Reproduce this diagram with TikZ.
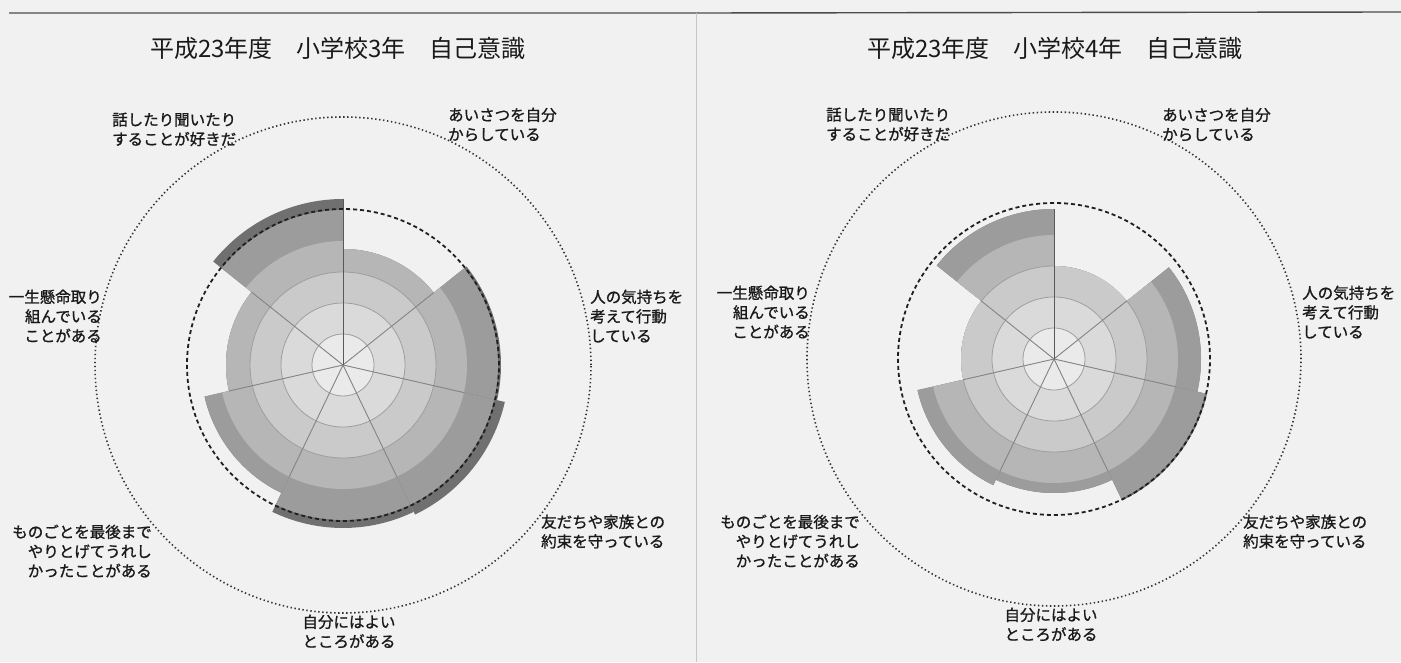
\documentclass[tikz,border=0pt]{standalone}
\usepackage{fontspec}
\setmainfont{Noto Sans CJK JP}
\newfontfamily\labfam{Noto Sans CJK JP}[FakeBold=1.1]
\definecolor{paper}{HTML}{F1F1F1}
\definecolor{rbA}{HTML}{EAEAEA}
\definecolor{rbB}{HTML}{DADADA}
\definecolor{rbC}{HTML}{CACACA}
\definecolor{rbD}{HTML}{B6B6B6}
\definecolor{rbE}{HTML}{9C9C9C}
\definecolor{rbF}{HTML}{707070}
\definecolor{inkc}{HTML}{1A1A1A}
\newcommand\labfont{\labfam\fontsize{15.5}{19.5}\selectfont}
\newcommand\ttlfont{\fontsize{24}{28}\selectfont}
\tikzset{
  lab/.style={font=\labfont, inner sep=0pt, text=inkc},
  ttl/.style={font=\ttlfont, inner sep=0pt, text=inkc},
  gridarc/.style={draw=black!38, line width=0.8pt},
  radial/.style={draw=black!48, line width=0.9pt},
  axisline/.style={draw=black!65, line width=1pt},
  dashcirc/.style={draw=black!88, line width=1.8pt, dash pattern=on 4pt off 3pt},
  outerdot/.style={draw=black!80, line width=1.6pt, dash pattern=on 1.4pt off 2.6pt},
  pageedge/.style={draw=black!70, line width=1.4pt},
  pagefold/.style={draw=black!22, line width=0.8pt},
}
% #1: list index/value (radius in px), #2: list boundary/length, #3: top axis length
\newcommand\roseplot[3]{%
  \foreach \i/\v in {#1}{%
    \pgfmathsetmacro\angA{90-(\i-1)*360/7}%
    \pgfmathsetmacro\angB{90-\i*360/7}%
    \foreach \k/\cc in {6/rbF,5/rbE,4/rbD,3/rbC,2/rbB,1/rbA}{%
      \pgfmathsetmacro\rr{min(\v,31*\k)}%
      \fill[\cc] (0,0) -- (\angA:\rr) arc[start angle=\angA, end angle=\angB, radius=\rr] -- cycle;
    }%
    \foreach \k in {1,2,3}{%
      \ifnum\v>\numexpr31*\k\relax
        \pgfmathsetmacro\gr{31*\k}%
        \draw[gridarc] (\angA:\gr) arc[start angle=\angA, end angle=\angB, radius=\gr];
      \fi
    }%
  }%
  \foreach \j/\l in {#2}{%
    \pgfmathsetmacro\angC{90-\j*360/7}%
    \draw[radial] (0,0) -- (\angC:\l);
  }%
  \draw[axisline] (0,0) -- (90:#3);
}
\begin{document}
\begin{tikzpicture}[x=1pt,y=1pt]
\useasboundingbox (0,0) rectangle (1401,662);
\fill[paper] (0,0) rectangle (1401,662);
\draw[pageedge] (9,649) -- (700,649) -- (1401,650);
\draw[pagefold] (696,649) -- (696,0);

% ---------- left chart ----------
\begin{scope}[shift={(343,297)}]
  \draw[outerdot] (0,0) circle[radius=248];
  \roseplot{1/116,2/158,3/166,4/163,5/142,6/117,7/166}{1/116,2/124,3/124,4/124,5/117,6/117}{166}
  \draw[dashcirc] (0,0) circle[radius=156];
\end{scope}
\node[ttl] (t3) at (338,614) {平成23年度　小学校3年　自己意識};
\node[lab, anchor=north west, align=left] (l3a) at (112,549.5) {話したり聞いたり\\することが好きだ};
\node[lab, anchor=north west, align=left] (l3b) at (448,554.5) {あいさつを自分\\からしている};
\node[lab, anchor=north west, align=left] (l3c) at (590,372.5) {人の気持ちを\\考えて行動\\している};
\node[lab, anchor=north west, align=left] (l3d) at (541,147.5) {友だちや家族との\\約束を守っている};
\node[lab, anchor=north, align=center] (l3e) at (349,47.5) {自分にはよい\\ところがある};
\node[lab, anchor=north east, align=right] (l3f) at (152,137.5) {ものごとを最後まで\\やりとげてうれし\\かったことがある};
\node[lab, anchor=north east, align=right] (l3g) at (102,372.5) {一生懸命取り\\組んでいる\\ことがある};

% ---------- right chart ----------
\begin{scope}[shift={(1054,303)}]
  \draw[outerdot] (0,0) circle[radius=247];
  \roseplot{1/93,2/147,3/157,4/134,5/140,6/93,7/150}{1/93,2/124,3/124,4/124,5/93,6/93}{150}
  \draw[dashcirc] (0,0) circle[radius=156];
\end{scope}
\node[ttl] (t4) at (1055,614) {平成23年度　小学校4年　自己意識};
\node[lab, anchor=north west, align=left] (l4a) at (826,554.5) {話したり聞いたり\\することが好きだ};
\node[lab, anchor=north west, align=left] (l4b) at (1162,554.5) {あいさつを自分\\からしている};
\node[lab, anchor=north west, align=left] (l4c) at (1302,376.5) {人の気持ちを\\考えて行動\\している};
\node[lab, anchor=north west, align=left] (l4d) at (1243,147.5) {友だちや家族との\\約束を守っている};
\node[lab, anchor=north, align=center] (l4e) at (1051,54.5) {自分にはよい\\ところがある};
\node[lab, anchor=north east, align=right] (l4f) at (860,147.5) {ものごとを最後まで\\やりとげてうれし\\かったことがある};
\node[lab, anchor=north east, align=right] (l4g) at (810,376.5) {一生懸命取り\\組んでいる\\ことがある};
\end{tikzpicture}
\end{document}
